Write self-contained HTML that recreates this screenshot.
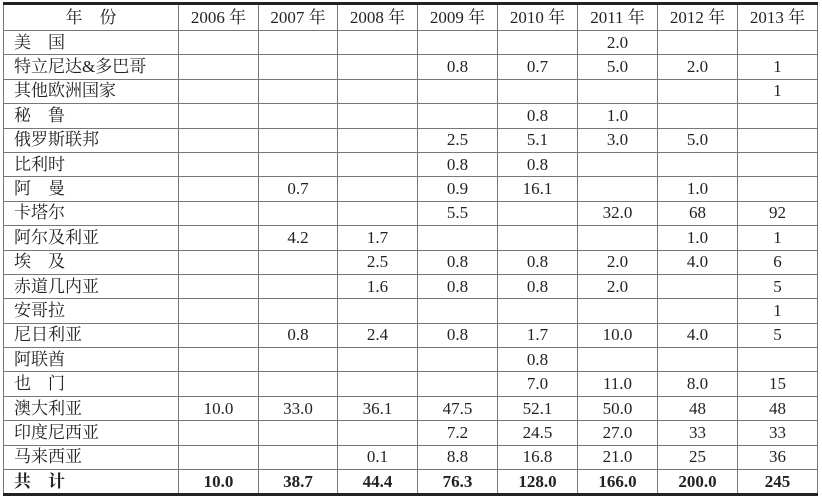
<!DOCTYPE html>
<html><head><meta charset="utf-8"><style>
body{margin:0;background:#fff;width:822px;height:499px;overflow:hidden}
table{position:absolute;left:3px;top:2px;border-collapse:collapse;table-layout:fixed;font-family:"Liberation Serif","Noto Serif CJK SC",serif;font-size:17px;color:#222}
td{border:1px solid #777;height:23.4px;padding:0;text-align:center;line-height:20px;white-space:nowrap}
tr:first-child td{border-top:3px solid #222;height:25px}
tr:last-child td{border-bottom:3px solid #222;font-weight:bold}
td:first-child{text-align:left;padding-left:10px;border-left:1px solid #777}
tr:first-child td:first-child{text-align:center;padding-left:0}
</style></head><body>
<table>
<colgroup><col style="width:175px"><col style="width:80px"><col style="width:79px"><col style="width:80px"><col style="width:80px"><col style="width:80px"><col style="width:80px"><col style="width:80px"><col style="width:80px"></colgroup>
<tr><td>年　份</td><td>2006 年</td><td>2007 年</td><td>2008 年</td><td>2009 年</td><td>2010 年</td><td>2011 年</td><td>2012 年</td><td>2013 年</td></tr>
<tr><td>美　国</td><td></td><td></td><td></td><td></td><td></td><td>2.0</td><td></td><td></td></tr>
<tr><td>特立尼达&amp;多巴哥</td><td></td><td></td><td></td><td>0.8</td><td>0.7</td><td>5.0</td><td>2.0</td><td>1</td></tr>
<tr><td>其他欧洲国家</td><td></td><td></td><td></td><td></td><td></td><td></td><td></td><td>1</td></tr>
<tr><td>秘　鲁</td><td></td><td></td><td></td><td></td><td>0.8</td><td>1.0</td><td></td><td></td></tr>
<tr><td>俄罗斯联邦</td><td></td><td></td><td></td><td>2.5</td><td>5.1</td><td>3.0</td><td>5.0</td><td></td></tr>
<tr><td>比利时</td><td></td><td></td><td></td><td>0.8</td><td>0.8</td><td></td><td></td><td></td></tr>
<tr><td>阿　曼</td><td></td><td>0.7</td><td></td><td>0.9</td><td>16.1</td><td></td><td>1.0</td><td></td></tr>
<tr><td>卡塔尔</td><td></td><td></td><td></td><td>5.5</td><td></td><td>32.0</td><td>68</td><td>92</td></tr>
<tr><td>阿尔及利亚</td><td></td><td>4.2</td><td>1.7</td><td></td><td></td><td></td><td>1.0</td><td>1</td></tr>
<tr><td>埃　及</td><td></td><td></td><td>2.5</td><td>0.8</td><td>0.8</td><td>2.0</td><td>4.0</td><td>6</td></tr>
<tr><td>赤道几内亚</td><td></td><td></td><td>1.6</td><td>0.8</td><td>0.8</td><td>2.0</td><td></td><td>5</td></tr>
<tr><td>安哥拉</td><td></td><td></td><td></td><td></td><td></td><td></td><td></td><td>1</td></tr>
<tr><td>尼日利亚</td><td></td><td>0.8</td><td>2.4</td><td>0.8</td><td>1.7</td><td>10.0</td><td>4.0</td><td>5</td></tr>
<tr><td>阿联酋</td><td></td><td></td><td></td><td></td><td>0.8</td><td></td><td></td><td></td></tr>
<tr><td>也　门</td><td></td><td></td><td></td><td></td><td>7.0</td><td>11.0</td><td>8.0</td><td>15</td></tr>
<tr><td>澳大利亚</td><td>10.0</td><td>33.0</td><td>36.1</td><td>47.5</td><td>52.1</td><td>50.0</td><td>48</td><td>48</td></tr>
<tr><td>印度尼西亚</td><td></td><td></td><td></td><td>7.2</td><td>24.5</td><td>27.0</td><td>33</td><td>33</td></tr>
<tr><td>马来西亚</td><td></td><td></td><td>0.1</td><td>8.8</td><td>16.8</td><td>21.0</td><td>25</td><td>36</td></tr>
<tr><td>共　计</td><td>10.0</td><td>38.7</td><td>44.4</td><td>76.3</td><td>128.0</td><td>166.0</td><td>200.0</td><td>245</td></tr>
</table>
</body></html>
